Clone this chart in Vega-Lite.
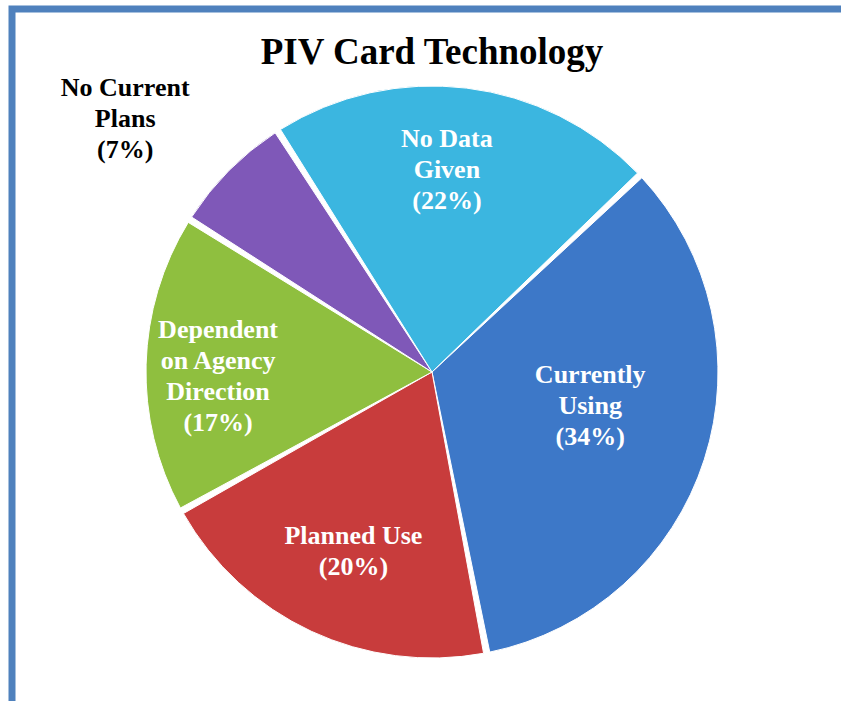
{
  "$schema": "https://vega.github.io/schema/vega-lite/v6.json",
  "autosize": "none",
  "width": 840,
  "height": 726,
  "padding": {"left": 12, "top": 9, "right": 0, "bottom": 0},
  "background": "white",
  "view": {"stroke": "#4f81bd", "strokeWidth": 7},
  "title": {
    "text": "PIV Card Technology",
    "font": "Liberation Serif",
    "fontSize": 37,
    "fontWeight": "bold",
    "color": "black",
    "anchor": "middle",
    "frame": "group",
    "baseline": "alphabetic",
    "offset": -140
  },
  "config": {
    "text": {"lineBreak": "\n"}
  },
  "data": {
    "values": [
      {"category": "Currently Using", "value": 34, "rank": 1, "label": "Currently\nUsing\n(34%)"},
      {"category": "Planned Use", "value": 20, "rank": 2, "label": "Planned Use\n(20%)"},
      {"category": "Dependent on Agency Direction", "value": 17, "rank": 3, "label": "Dependent\non Agency\nDirection\n(17%)"},
      {"category": "No Current Plans", "value": 7, "rank": 4, "label": "No Current\nPlans\n(7%)"},
      {"category": "No Data Given", "value": 22, "rank": 5, "label": "No Data\nGiven\n(22%)"}
    ]
  },
  "encoding": {
    "theta": {"field": "value", "type": "quantitative", "stack": true, "scale": {"range": [0.813, 7.096]}},
    "order": {"field": "rank", "type": "quantitative"}
  },
  "layer": [
    {
      "mark": {"type": "arc", "radius": 286, "padAngle": 0.022, "stroke": "#ffffff", "strokeWidth": 1},
      "encoding": {
        "color": {
          "field": "category",
          "type": "nominal",
          "legend": null,
          "scale": {
            "domain": ["Currently Using", "Planned Use", "Dependent on Agency Direction", "No Current Plans", "No Data Given"],
            "range": ["#3d78c8", "#c83c3c", "#8fbf3f", "#7f58b8", "#3bb6e0"]
          }
        }
      }
    },
    {
      "mark": {"type": "text", "radius": 205, "dx": -10, "dy": -30, "font": "Liberation Serif", "fontSize": 26, "fontWeight": "bold", "color": "white", "lineHeight": 31, "align": "center", "baseline": "middle"},
      "encoding": {
        "text": {"condition": {"test": "datum.category !== 'No Data Given'", "value": ""}, "field": "label"}
      }
    },
    {
      "mark": {"type": "text", "radius": 205, "dx": 8, "dy": -22, "font": "Liberation Serif", "fontSize": 26, "fontWeight": "bold", "color": "white", "lineHeight": 31, "align": "center", "baseline": "middle"},
      "encoding": {
        "text": {"condition": {"test": "datum.category !== 'Planned Use'", "value": ""}, "field": "label"}
      }
    },
    {
      "mark": {"type": "text", "radius": 205, "dx": -9, "dy": -36, "font": "Liberation Serif", "fontSize": 26, "fontWeight": "bold", "color": "white", "lineHeight": 31, "align": "center", "baseline": "middle"},
      "encoding": {
        "text": {"condition": {"test": "datum.category !== 'Dependent on Agency Direction'", "value": ""}, "field": "label"}
      }
    },
    {
      "mark": {"type": "text", "radius": 163, "dx": 3, "dy": -47, "font": "Liberation Serif", "fontSize": 26, "fontWeight": "bold", "color": "white", "lineHeight": 31, "align": "center", "baseline": "middle"},
      "encoding": {
        "text": {"condition": {"test": "datum.category !== 'Currently Using'", "value": ""}, "field": "label"}
      }
    },
    {
      "mark": {"type": "text", "radius": 397, "dx": -25, "dy": -4, "font": "Liberation Serif", "fontSize": 26, "fontWeight": "bold", "color": "black", "lineHeight": 31, "align": "center", "baseline": "middle"},
      "encoding": {
        "text": {"condition": {"test": "datum.category !== 'No Current Plans'", "value": ""}, "field": "label"}
      }
    }
  ]
}
